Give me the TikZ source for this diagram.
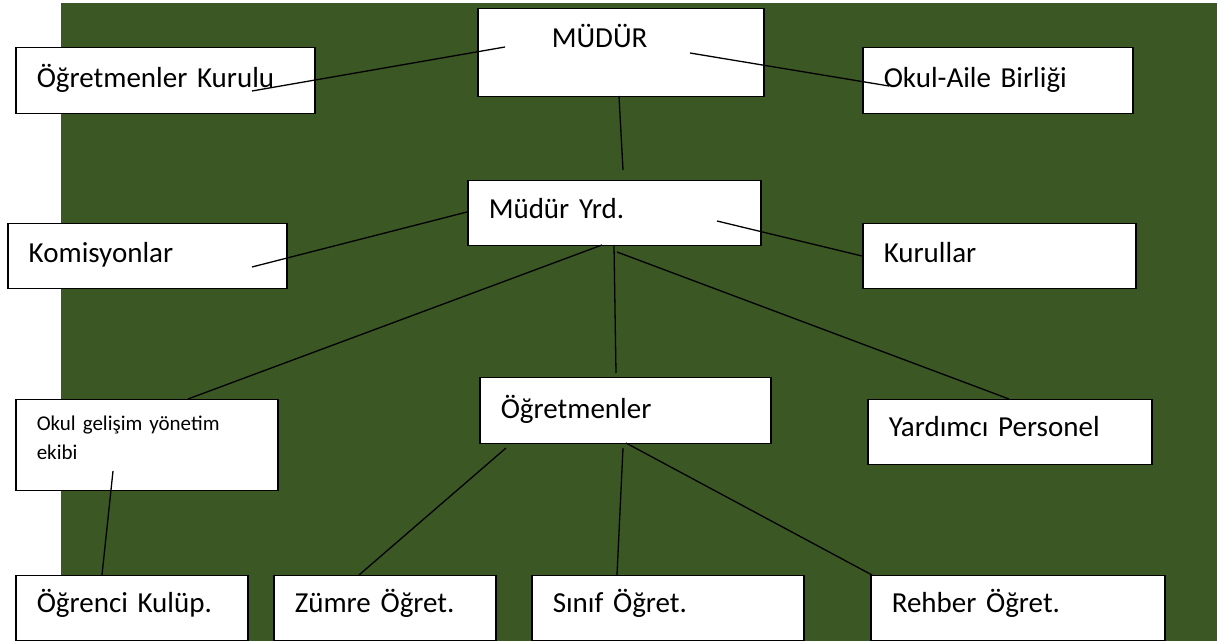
\documentclass[tikz,border=0pt]{standalone}
\usepackage{fontspec}
\setmainfont{Carlito}
\definecolor{okulyesil}{RGB}{59,87,36}
\tikzset{
	box/.style={draw, fill=white, line width=0.75pt, anchor=north west, inner xsep=10.5pt, inner ysep=0pt, align=left, font=\fontsize{14.5}{17}\selectfont},
	link/.style={line width=0.65pt}
}
\begin{document}
\begin{tikzpicture}[x=0.5pt,y=-0.5pt]
		\useasboundingbox (0,0) rectangle (1217,641);
		\fill[okulyesil] (61,3) rectangle (1217,641);
		\node[box, text width=122pt, text height=19.5pt, text depth=24.5pt] (mudur) at (477,8) {\hspace*{26.5pt}MÜDÜR};
		\node[box, text width=128.5pt, text height=20pt, text depth=13pt] (kurul) at (15,47) {Öğretmenler Kurulu};
		\node[box, text width=114pt, text height=20pt, text depth=13pt] (aile) at (862,47) {Okul-Aile Birliği};
		\node[box, text width=125.5pt, text height=19pt, text depth=13.5pt] (yrd) at (467,180) {Müdür Yrd.};
		\node[box, text width=118.5pt, text height=19.5pt, text depth=13pt] (komisyon) at (7,223) {Komisyonlar};
		\node[box, text width=115.5pt, text height=19.5pt, text depth=13pt] (kurullar) at (862,223) {Kurullar};
		\node[box, text width=110pt, text height=15.5pt, text depth=30pt, font=\fontsize{10.5}{14.5}\selectfont] (gelisim) at (15,399) {Okul gelişim yönetim\\ekibi};
		\node[box, text width=124.5pt, text height=20.5pt, text depth=12.5pt] (ogretmen) at (479,377) {Öğretmenler};
		\node[box, text width=121pt, text height=18.5pt, text depth=14pt] (yardimci) at (867,399) {Yardımcı Personel};
		\node[box, text width=95pt, text height=18.5pt, text depth=14pt] (ogrenci) at (15,575) {Öğrenci Kulüp.};
		\node[box, text width=90pt, text height=18.5pt, text depth=14pt] (zumre) at (273,575) {Zümre Öğret.};
		\node[box, text width=115pt, text height=18.5pt, text depth=14pt] (sinif) at (531,575) {Sınıf Öğret.};
		\node[box, text width=126pt, text height=18.5pt, text depth=14pt] (rehber) at (870,575) {Rehber Öğret.};
		\coordinate (yrdust) at ([shift={(156,-10)}]yrd.north west);
		\draw[link] ([shift={(237,44)}]kurul.north west) -- ([shift={(28,39)}]mudur.north west);
		\draw[link] ([shift={(213,45)}]mudur.north west) -- ([shift={(27,39)}]aile.north west);
		\draw[link] ([shift={(142,88)}]mudur.north west) -- (yrdust);
		\draw[link] ([shift={(245,44)}]komisyon.north west) -- ([shift={(0,32)}]yrd.north west);
		\draw[link] ([shift={(250,41)}]yrd.north west) -- ([shift={(0,33)}]kurullar.north west);
		\draw[link] ([shift={(135,65)}]yrd.north west) -- ([shift={(173,0)}]gelisim.north west);
		\draw[link] ([shift={(147,65)}]yrd.north west) -- ([shift={(137,-4)}]ogretmen.north west);
		\draw[link] ([shift={(150,72)}]yrd.north west) -- ([shift={(142,0)}]yardimci.north west);
		\draw[link] ([shift={(98,72)}]gelisim.north west) -- ([shift={(87,0)}]ogrenci.north west);
		\draw[link] ([shift={(27,71)}]ogretmen.north west) -- ([shift={(86,0)}]zumre.north west);
		\draw[link] ([shift={(144,71)}]ogretmen.north west) -- ([shift={(86,0)}]sinif.north west);
		\draw[link] ([shift={(147,66)}]ogretmen.north west) -- ([shift={(2,0)}]rehber.north west);
	\end{tikzpicture}
\end{document}
